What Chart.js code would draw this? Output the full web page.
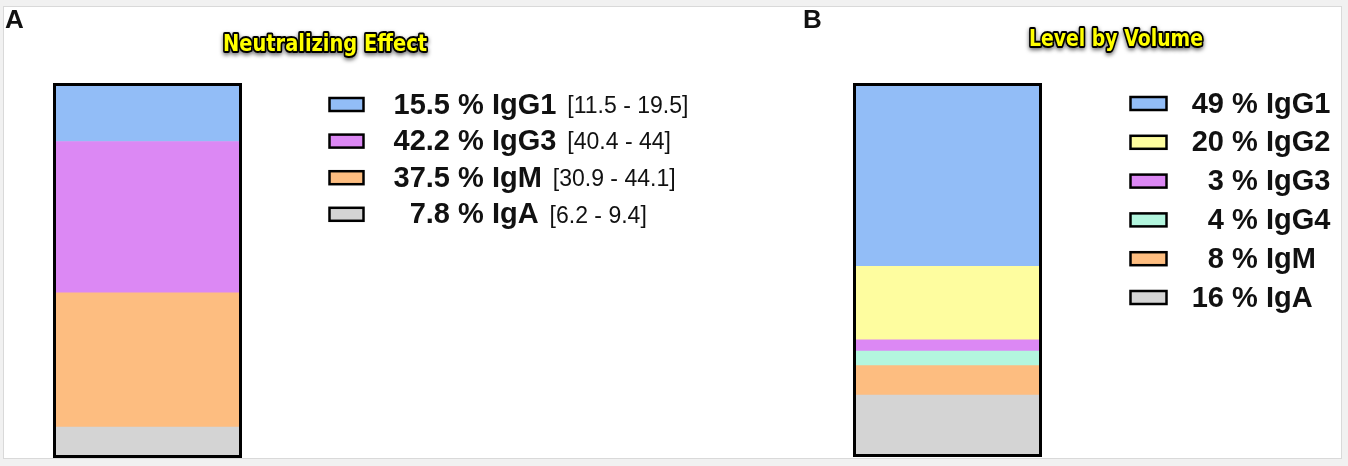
<!DOCTYPE html>
<html>
<head>
<meta charset="utf-8">
<script src="https://cdn.jsdelivr.net/npm/chart.js@4.4.1/dist/chart.umd.min.js"></script>
<style>
html, body { margin: 0; padding: 0; background: #f1f1f1; width: 1348px; height: 466px; overflow: hidden; }
#frame { position: absolute; left: 3px; top: 6px; width: 1337px; height: 451px; background: #fff; border: 1px solid #d9d9d9; }
canvas { position: absolute; top: 0; }
#chartA { left: 0; }
#chartB { left: 800px; }
</style>
</head>
<body>
<div id="frame"></div>
<canvas id="chartA" width="800" height="466"></canvas>
<canvas id="chartB" width="548" height="466"></canvas>
<script>
// Panel A - neutralizing effect
const neutLabels = ['IgG1', 'IgG3', 'IgM', 'IgA'];
const neutValues = [15.5, 42.2, 37.5, 7.8];
const neutRanges = ['[11.5 - 19.5]', '[40.4 - 44]', '[30.9 - 44.1]', '[6.2 - 9.4]'];
const neutColors = ['#92bdf7', '#dc88f4', '#fdbd80', '#d4d4d4'];

// Panel B - level by volume
const volLabels = ['IgG1', 'IgG2', 'IgG3', 'IgG4', 'IgM', 'IgA'];
const volValues = [49, 20, 3, 4, 8, 16];
const volColors = ['#92bdf7', '#fefd9f', '#dc88f4', '#b3f6de', '#fdbd80', '#d4d4d4'];

const FONT = '"Liberation Sans", Arial, Helvetica, sans-serif';

// draws outline of bar, panel letter, outlined title and legend
function panelPlugin(cfg) {
    return {
        id: 'panel',
        afterDraw(chart) {
            const ctx = chart.ctx;
            const a = chart.chartArea;
            ctx.save();

            ctx.lineWidth = 3;
            ctx.strokeStyle = '#000';
            ctx.strokeRect(a.left - 1.5, a.top - 1.5, a.right - a.left + 3, a.bottom - a.top + 3);

            // letter
            ctx.fillStyle = '#111';
            ctx.font = 'bold 26px ' + FONT;
            ctx.textAlign = 'left';
            ctx.textBaseline = 'alphabetic';
            ctx.fillText(cfg.letter, cfg.letterX, 28);

            // title
            ctx.font = 'bold 23px "DejaVu Sans", sans-serif';
            const tw = ctx.measureText(cfg.title).width;
            const sx = cfg.titleWidth / tw;
            ctx.save();
            ctx.translate(cfg.titleX, cfg.titleY);
            ctx.scale(sx, 1);
            ctx.textAlign = 'center';
            ctx.textBaseline = 'middle';
            ctx.lineJoin = 'round';
            ctx.shadowColor = 'rgba(0,0,0,0.6)';
            ctx.shadowBlur = 4;
            ctx.shadowOffsetY = 2;
            ctx.lineWidth = 4;
            ctx.strokeStyle = '#000';
            ctx.strokeText(cfg.title, 0, 0);
            ctx.shadowColor = 'transparent';
            ctx.fillStyle = '#ffff00';
            ctx.fillText(cfg.title, 0, 0);
            ctx.restore();

            // legend
            cfg.labels.forEach((lab, i) => {
                const cy = cfg.rowY + i * cfg.rowStep;
                ctx.fillStyle = cfg.colors[i];
                ctx.fillRect(cfg.boxX, cy - 6.5, cfg.boxW, 13);
                ctx.lineWidth = 2.5;
                ctx.strokeStyle = '#000';
                ctx.strokeRect(cfg.boxX, cy - 6.5, cfg.boxW, 13);

                ctx.fillStyle = '#111';
                ctx.font = 'bold 29px ' + FONT;
                ctx.textBaseline = 'middle';
                ctx.textAlign = 'right';
                ctx.fillText(String(cfg.values[i]), cfg.numRight, cy + 1);
                ctx.textAlign = 'left';
                const rest = ' % ' + lab;
                ctx.fillText(rest, cfg.numRight, cy + 1);
                if (cfg.ranges) {
                    const w = ctx.measureText(rest).width;
                    ctx.font = '23px ' + FONT;
                    ctx.fillText(cfg.ranges[i], cfg.numRight + w + 11, cy + 2);
                }
            });
            ctx.restore();
        }
    };
}

function makeChart(id, labels, values, colors, pad, cfg) {
    const total = values.reduce((s, v) => s + v, 0);
    // stacking starts at the bottom, so reverse the legend order
    const datasets = labels.map((lab, i) => ({
        label: lab,
        data: [values[i]],
        backgroundColor: colors[i],
        borderWidth: 0,
        barPercentage: 1,
        categoryPercentage: 1
    })).reverse();

    return new Chart(document.getElementById(id), {
        type: 'bar',
        data: { labels: [''], datasets: datasets },
        options: {
            responsive: false,
            animation: false,
            devicePixelRatio: 1,
            layout: { padding: pad },
            plugins: { legend: { display: false }, tooltip: { enabled: false } },
            scales: {
                x: { display: false, stacked: true },
                y: { display: false, stacked: true, min: 0, max: total }
            }
        },
        plugins: [panelPlugin(Object.assign({ labels: labels, values: values, colors: colors }, cfg))]
    });
}

makeChart('chartA', neutLabels, neutValues, neutColors,
    { left: 56, right: 561, top: 86, bottom: 11 },
    {
        letter: 'A', letterX: 5,
        title: 'Neutralizing Effect', titleX: 325, titleY: 45, titleWidth: 204,
        ranges: neutRanges,
        boxX: 329.5, boxW: 34, rowY: 104.5, rowStep: 36.6, numRight: 450
    });

makeChart('chartB', volLabels, volValues, volColors,
    { left: 56, right: 309, top: 86, bottom: 12 },
    {
        letter: 'B', letterX: 3,
        title: 'Level by Volume', titleX: 316, titleY: 40, titleWidth: 174,
        boxX: 330.5, boxW: 36, rowY: 103.5, rowStep: 38.8, numRight: 424
    });
</script>
</body>
</html>
